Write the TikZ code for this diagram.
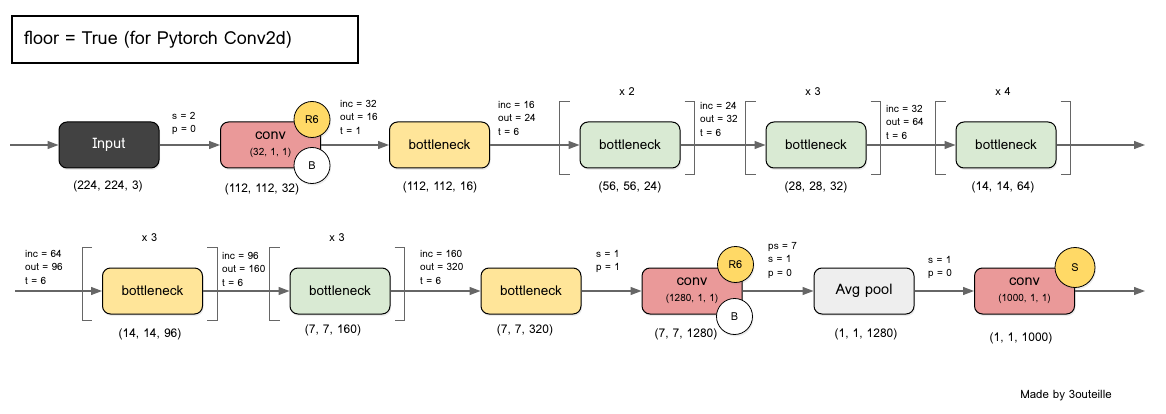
\documentclass[tikz,border=0pt]{standalone}
\usepackage{fontspec}
\setmainfont{Loma}
\usetikzlibrary{arrows.meta, positioning, shadows}

\definecolor{inputgray}{HTML}{424242}
\definecolor{convred}{HTML}{EA9999}
\definecolor{bnyellow}{HTML}{FFE599}
\definecolor{bngreen}{HTML}{D9EAD3}
\definecolor{poolgray}{HTML}{EEEEEE}
\definecolor{badgeyellow}{HTML}{FFD966}
\definecolor{flowgray}{HTML}{666666}

\tikzset{
  blk/.style={draw=black, line width=1pt, rounded corners=8pt,
    minimum width=100pt, minimum height=46pt, align=center,
    font=\fontsize{13.5}{15}\selectfont,
    drop shadow={opacity=0.15, shadow xshift=1pt, shadow yshift=-2pt}},
  inputblk/.style={blk, fill=inputgray, text=white, font=\fontsize{14.5}{16}\selectfont},
  convblk/.style={blk, fill=convred, font=\fontsize{14.5}{16}\selectfont},
  bnyel/.style={blk, fill=bnyellow},
  bngrn/.style={blk, fill=bngreen},
  poolblk/.style={blk, fill=poolgray, font=\fontsize{14.5}{16}\selectfont},
  badge/.style={circle, draw=black, line width=0.8pt, minimum size=36pt, inner sep=0pt,
    font=\fontsize{11}{12}\selectfont,
    drop shadow={opacity=0.15, shadow xshift=1pt, shadow yshift=-2pt}},
  lbl/.style={anchor=north west, inner sep=0pt, align=left, font=\fontsize{10}{13.5}\selectfont},
  dim/.style={inner sep=0pt, font=\fontsize{12}{14}\selectfont},
  rep/.style={inner sep=0pt, font=\fontsize{11}{12}\selectfont},
  brk/.style={draw=flowgray, line width=0.8pt},
  flow/.style={draw=flowgray, line width=1.2pt, -{Triangle[length=11pt, width=8pt]}},
  titlebox/.style={draw=black, line width=2pt, anchor=north west, minimum height=47pt,
    text width=322pt, inner xsep=12pt, align=left, font=\fontsize{18}{21}\selectfont}
}

\newcommand{\sublbl}[1]{\\[0pt]{\fontsize{10}{11}\selectfont #1}}

\begin{document}
\begin{tikzpicture}[x=1pt, y=-1pt]
  \useasboundingbox (0,0) rectangle (1166,414);
  % Title
  \node[titlebox] (title) at (11,15) {floor = True (for Pytorch Conv2d)};

  % First row
  \node[inputblk] (inp) at (109,145) {Input};
  \node[convblk] (conva) at (270.5,145) {conv\sublbl{(32, 1, 1)}};
  \node[bnyel] (bna) at (439.5,145) {bottleneck};
  \node[bngrn] (bnb) at (630,145) {bottleneck};
  \node[bngrn] (bnc) at (816,145) {bottleneck};
  \node[bngrn] (bnd) at (1006,145) {bottleneck};
  \node[badge, fill=badgeyellow] (r6a) at ([xshift=-9pt,yshift=2pt]conva.north east) {R6};
  \node[badge, fill=white] (ba) at ([xshift=-9pt,yshift=3pt]conva.south east) {B};

  % Second row
  \node[bnyel] (bne) at (152.5,291) {bottleneck};
  \node[bngrn] (bnf) at (340,291) {bottleneck};
  \node[bnyel] (bng) at (531,291) {bottleneck};
  \node[convblk] (convb) at (692,291) {conv\sublbl{(1280, 1, 1)}};
  \node[poolblk] (pool) at (864,291) {Avg pool};
  \node[convblk] (convc) at (1024.5,291) {conv\sublbl{(1000, 1, 1)}};
  \node[badge, fill=badgeyellow] (r6b) at ([xshift=-7pt,yshift=3pt]convb.north east) {R6};
  \node[badge, fill=white] (bb) at ([xshift=-8pt,yshift=-2pt]convb.south east) {B};
  \node[badge, fill=badgeyellow, minimum size=40pt] (sm) at (convc.north east) {S};

  % Repeated blocks
  \foreach \n/\k in {bnb/2, bnc/3, bnd/4, bne/3, bnf/3} {
    \draw[brk] ([xshift=-10pt,yshift=20pt]\n.north west) -- ([xshift=-20pt,yshift=20pt]\n.north west)
      -- ([xshift=-20pt,yshift=-6pt]\n.south west) -- ([xshift=-10pt,yshift=-6pt]\n.south west);
    \draw[brk] ([xshift=4pt,yshift=20pt]\n.north east) -- ([xshift=14pt,yshift=20pt]\n.north east)
      -- ([xshift=14pt,yshift=-6pt]\n.south east) -- ([xshift=4pt,yshift=-6pt]\n.south east);
    \node[rep] (rep-\n) at ([xshift=-3pt,yshift=30pt]\n.north) {x \k};
  }

  % Connectors
  \coordinate (in0) at (10,145);
  \coordinate (out0) at (1145,145);
  \coordinate (in1) at (15,291);
  \coordinate (out1) at (1145,291);
  \draw[flow] (in0) -- (inp);
  \draw[flow] (inp) -- (conva);
  \draw[flow] (conva) -- (bna);
  \draw[flow] (bna) -- (bnb);
  \draw[flow] (bnb) -- (bnc);
  \draw[flow] (bnc) -- (bnd);
  \draw[flow] (bnd) -- (out0);
  \draw[flow] (in1) -- (bne);
  \draw[flow] (bne) -- (bnf);
  \draw[flow] (bnf) -- (bng);
  \draw[flow] (bng) -- (convb);
  \draw[flow] (convb) -- (pool);
  \draw[flow] (pool) -- (convc);
  \draw[flow] (convc) -- (out1);

  % Layer parameters
  \node[lbl] (la) at (172,112) {s = 2\\p = 0};
  \node[lbl] (lb) at (340,100) {inc = 32\\out = 16\\t = 1};
  \node[lbl] (lc) at (498,101) {inc = 16\\out = 24\\t = 6};
  \node[lbl] (ld) at (700,102) {inc = 24\\out = 32\\t = 6};
  \node[lbl] (le) at (886,105) {inc = 32\\out = 64\\t = 6};
  \node[lbl] (lf) at (25,250) {inc = 64\\out = 96\\t = 6};
  \node[lbl] (lg) at (222,252) {inc = 96\\out = 160\\t = 6};
  \node[lbl] (lh) at (420,250) {inc = 160\\out = 320\\t = 6};
  \node[lbl] (li) at (596,250) {s = 1\\p = 1};
  \node[lbl] (lj) at (768,242) {ps = 7\\s = 1\\p = 0};
  \node[lbl] (lk) at (928,256) {s = 1\\p = 0};

  % Output shapes
  \node[dim] (d-inp) at (108,186) {(224, 224, 3)};
  \node[dim] (d-conva) at (262,189) {(112, 112, 32)};
  \node[dim] (d-bna) at (440,187) {(112, 112, 16)};
  \node[dim] (d-bnb) at (630,187) {(56, 56, 24)};
  \node[dim] (d-bnc) at (816,187) {(28, 28, 32)};
  \node[dim] (d-bnd) at (1003,187) {(14, 14, 64)};
  \node[dim] (d-bne) at (150,334) {(14, 14, 96)};
  \node[dim] (d-bnf) at (333,330) {(7, 7, 160)};
  \node[dim] (d-bng) at (525,330) {(7, 7, 320)};
  \node[dim] (d-convb) at (686,334) {(7, 7, 1280)};
  \node[dim] (d-pool) at (866,334) {(1, 1, 1280)};
  \node[dim] (d-convc) at (1021,338) {(1, 1, 1000)};

  \node[dim, font=\fontsize{11.5}{13}\selectfont] (credit) at (1066,396) {Made by 3outeille};
\end{tikzpicture}
\end{document}
